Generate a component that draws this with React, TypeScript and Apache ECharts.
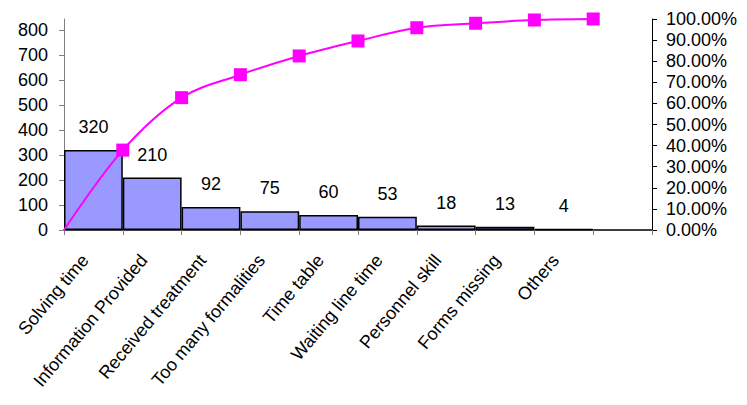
import React, { useEffect, useRef } from "react";
import * as echarts from "echarts";

const categories = [
  "Solving time",
  "Information Provided",
  "Received treatment",
  "Too many formalities",
  "Time table",
  "Waiting line time",
  "Personnel skill",
  "Forms missing",
  "Others",
  "",
];
const counts = [320, 210, 92, 75, 60, 53, 18, 13, 4];
const cumulativePct = [0, 37.87, 62.72, 73.61, 82.49, 89.59, 95.86, 97.99, 99.53, 100.0];
const leftMax = 845;

export default function App() {
  const ref = useRef<HTMLDivElement>(null);
  useEffect(() => {
    if (!ref.current) return;
    const chart = echarts.init(ref.current, undefined, { renderer: "svg" });
    const font = "'Liberation Sans', Arial, sans-serif";
    chart.setOption({
      animation: false,
      backgroundColor: "#ffffff",
      textStyle: { fontFamily: font },
      grid: { left: 64, right: 95, top: 19, bottom: 175, containLabel: false },
      xAxis: [
        {
          type: "category",
          data: categories,
          boundaryGap: true,
          axisLine: { show: true, lineStyle: { color: "#000", width: 1.5 } },
          axisTick: { show: true, length: 5, lineStyle: { color: "#808080" }, alignWithLabel: false },
          axisLabel: {
            rotate: 50,
            margin: 17,
            padding: [0, 13, 0, 0],
            color: "#000",
            fontSize: 18,
            fontFamily: font,
            interval: 0,
          },
          splitLine: { show: false },
        },
        {
          type: "value",
          min: 0,
          max: 10,
          show: false,
        },
      ],
      yAxis: [
        {
          type: "value",
          min: 0,
          max: leftMax,
          interval: 100,
          position: "left",
          axisLine: { show: true, lineStyle: { color: "#808080", width: 1 } },
          axisTick: { show: true, length: 5, lineStyle: { color: "#808080" } },
          axisLabel: {
            color: "#000",
            fontSize: 18,
            fontFamily: font,
            margin: 16,
            showMaxLabel: false,
          },
          splitLine: { show: false },
        },
        {
          type: "value",
          min: 0,
          max: 100,
          interval: 10,
          position: "right",
          axisLine: { show: true, lineStyle: { color: "#000", width: 1 } },
          axisTick: { show: true, length: 5, lineStyle: { color: "#000" } },
          axisLabel: {
            color: "#000",
            fontSize: 18,
            fontFamily: font,
            margin: 14,
            formatter: (v: number) => v.toFixed(2) + "%",
          },
          splitLine: { show: false },
        },
      ],
      series: [
        {
          type: "bar",
          xAxisIndex: 0,
          yAxisIndex: 0,
          data: counts,
          barCategoryGap: "0%",
          itemStyle: { color: "#9999FF", borderColor: "#000", borderWidth: 1.5 },
          label: {
            show: true,
            position: "top",
            distance: 14,
            color: "#000",
            fontSize: 18,
            fontFamily: font,
          },
          z: 2,
        },
        {
          type: "line",
          xAxisIndex: 1,
          yAxisIndex: 1,
          data: cumulativePct.map((v, i) =>
            i === 0 ? { value: [i, v], symbol: "none" } : { value: [i, v] }
          ),
          smooth: 0.35,
          symbol: "rect",
          symbolSize: 13,
          lineStyle: { color: "#FF00FF", width: 2 },
          itemStyle: { color: "#FF00FF" },
          z: 5,
        },
      ],
    });
    return () => chart.dispose();
  }, []);
  return (
    <div
      ref={ref}
      style={{ position: "fixed", left: 0, top: 0, width: 747, height: 405 }}
    />
  );
}
